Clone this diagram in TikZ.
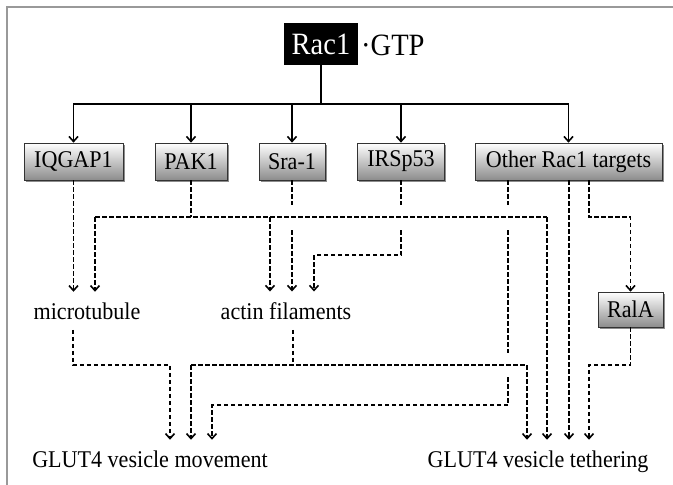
\documentclass[tikz,border=0pt]{standalone}
\usepackage{fontspec}
\setmainfont{Liberation Serif}[FakeStretch=0.92]
\usetikzlibrary{arrows.meta,shadows,calc}
\begin{document}
\begin{tikzpicture}[x=1pt,y=-1pt,
  ln/.style={line width=1.6pt},
  dsh/.style={line width=1.6pt, dash pattern=on 4.5pt off 2.5pt},
  arrowtip/.style={-{Straight Barb[length=5pt,width=9pt]}},
  box/.style={draw=black!80, line width=0.7pt, top color=white, bottom color=black!45,
    inner sep=0pt, minimum height=37pt, font=\fontsize{24}{28}\selectfont,
    drop shadow={shadow xshift=1.5pt,shadow yshift=-1.5pt,opacity=0.45,fill=black}},
  lbl/.style={inner sep=0pt, outer ysep=10.6pt, font=\fontsize{24}{28}\selectfont, anchor=base}
]
\useasboundingbox (0,0) rectangle (673,485);
\draw[black!40, line width=1.2pt] (7,485) -- (7,7) -- (673,7);

% top node
\node[fill=black, text=white, minimum width=74pt, minimum height=42pt, inner sep=0pt,
  font=\fontsize{31}{34}\selectfont] (rac) at (321,44) {Rac1};
\node[anchor=base west, inner sep=0pt, font=\fontsize{31}{34}\selectfont] (gtp) at (361,55) {·GTP};

% targets
\node[box, minimum width=99pt] (iq) at (73.5,161.5) {IQGAP1};
\node[box, minimum width=72pt] (pak) at (191,161.5) {PAK1};
\node[box, minimum width=66pt] (sra) at (292,161.5) {Sra-1};
\node[box, minimum width=87pt] (irs) at (401,161.5) {IRSp53};
\node[box, minimum width=187pt] (oth) at (568.5,161.5) {Other Rac1 targets};
\node[box, minimum width=65pt, minimum height=35pt] (ral) at (630.5,309.5) {RalA};

% labels
\node[lbl] (mt) at (87,319) {microtubule};
\node[lbl] (act) at (286,319) {actin filaments};
\node[lbl] (mv) at (150,467) {GLUT4 vesicle movement};
\node[lbl] (te) at (538,467) {GLUT4 vesicle tethering};

% solid tree
\coordinate (bus) at (321,104);
\draw[ln] (rac.south) -- (bus);
\draw[ln,arrowtip] (bus) -| (iq.north);
\draw[ln,arrowtip] (bus) -| (oth.north);
\draw[ln,arrowtip] (pak.north |- bus) -- (pak.north);
\draw[ln,arrowtip] (sra.north |- bus) -- (sra.north);
\draw[ln,arrowtip] (irs.north |- bus) -- (irs.north);

% IQGAP1
\draw[dsh,arrowtip] (iq.south) -- (iq.south |- mt.north);

% PAK1
\coordinate (pj) at (191,217);
\coordinate (h1l) at (95,217);
\coordinate (h1m) at (270,217);
\coordinate (h1r) at (547,217);
\draw[dsh] (pak.south) -- (pj);
\draw[dsh] (h1l) -- (h1r);
\draw[dsh,arrowtip] (h1l) -- (h1l |- mt.north);
\draw[dsh,arrowtip] (h1m) -- (h1m |- act.north);
\draw[dsh,arrowtip] (h1r) -- (h1r |- te.north);

% Sra-1
\draw[dsh] (sra.south) -- (sra.south |- 0,205);
\draw[dsh,arrowtip] (sra.south |- 0,230) -- (sra.south |- act.north);

% IRSp53
\draw[dsh] (irs.south) -- (irs.south |- 0,205);
\draw[dsh,arrowtip] (irs.south |- 0,230) -- (irs.south |- 0,255) -| (314,0 |- act.north);

% Other Rac1 targets
\draw[dsh] (508,0 |- oth.south) -- (508,205);
\draw[dsh] (508,230) -- (508,353);
\draw[dsh,arrowtip] (508,377) -- (508,405) -| (212,0 |- mv.north);
\draw[dsh,arrowtip] (569,0 |- oth.south) -- (569,0 |- te.north);
\draw[dsh,arrowtip] (589,0 |- oth.south) -- (589,217) -| (ral.north);

% RalA
\draw[dsh,arrowtip] (ral.south) -- (ral.south |- 0,365) -| (589,0 |- te.north);

% microtubule
\draw[dsh,arrowtip] (73,0 |- mt.south) -- (73,365) -| (170,0 |- mv.north);

% actin filaments
\coordinate (aj) at (293,365);
\coordinate (a1) at (191,365);
\coordinate (a2) at (527,365);
\draw[dsh] (aj |- act.south) -- (aj);
\draw[dsh] (a1) -- (a2);
\draw[dsh,arrowtip] (a1) -- (a1 |- mv.north);
\draw[dsh,arrowtip] (a2) -- (a2 |- te.north);
\end{tikzpicture}
\end{document}
